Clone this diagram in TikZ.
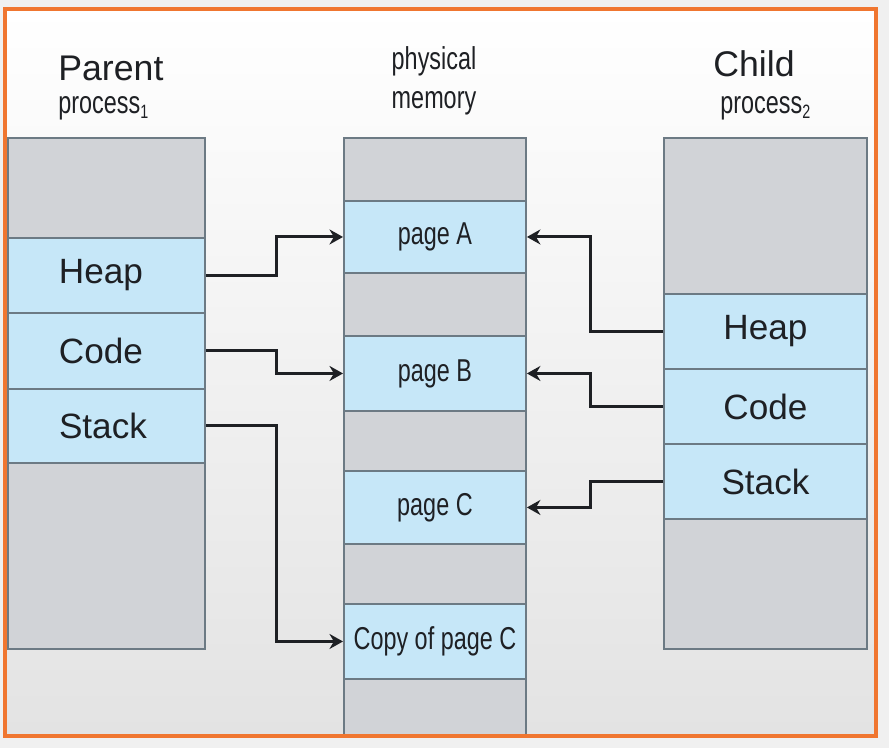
\documentclass[tikz,border=0pt]{standalone}
\usepackage{fontspec}
\setmainfont{Liberation Sans}
\newfontfamily\narrowfont[FakeStretch=0.74]{Liberation Sans}
\usetikzlibrary{arrows.meta}
\definecolor{segblue}{RGB}{198,231,248}
\definecolor{seggray}{RGB}{209,211,215}
\definecolor{segline}{RGB}{108,122,132}
\definecolor{frameorange}{RGB}{240,118,48}
\definecolor{inkdark}{RGB}{30,32,36}

\begin{document}
\begin{tikzpicture}[x=0.02cm,y=-0.02cm,
	blk/.style={draw=segline,line width=1.1pt,inner sep=0pt,anchor=north west,text=inkdark,font=\fontsize{20}{24}\selectfont},
	free/.style={blk,fill=seggray},
	used/.style={blk,fill=segblue},
	page/.style={used,font=\narrowfont\fontsize{18}{22}\selectfont},
	title/.style={inner sep=0pt,text=inkdark,font=\fontsize{20.3}{24}\selectfont},
	subtitle/.style={inner sep=0pt,text=inkdark,font=\narrowfont\fontsize{18}{22}\selectfont},
	conn/.style={line width=1.7pt,draw=inkdark,-{Stealth[length=0.27cm,width=0.3cm]}}]
	\useasboundingbox (0,0) rectangle (889,748);
	\fill[black!6] (0,0) rectangle (889,748);
	\shade[top color=white,bottom color=black!11] (5,9) rectangle (876,736);

	% headings
	\node[title,anchor=base west] (parent) at (58,80) {Parent};
	\node[subtitle,anchor=base west] (parentsub) at (58,113) {process\raisebox{-0.35ex}{\fontsize{11}{12}\selectfont 1}};
	\node[subtitle,anchor=base] (physical) at (434,69) {physical};
	\node[subtitle,anchor=base] (memory) at (434,108) {memory};
	\node[title,anchor=base west] (child) at (713,76) {Child};
	\node[subtitle,anchor=base west] (childsub) at (720,113) {process\raisebox{-0.35ex}{\fontsize{11}{12}\selectfont 2}};

	% parent process
	\node[free,minimum width=3.94cm,minimum height=2cm] (lg1) at (7,137) {};
	\node[used,minimum width=3.94cm,minimum height=1.5cm] (pheap) at (7,237) {Heap\kern0.22cm};
	\node[used,minimum width=3.94cm,minimum height=1.52cm] (pcode) at (7,312) {Code\kern0.22cm};
	\node[used,minimum width=3.94cm,minimum height=1.48cm] (pstack) at (7,388) {Stack\kern0.14cm};
	\node[free,minimum width=3.94cm,minimum height=3.72cm] (lg2) at (7,462) {};

	% physical memory
	\node[free,minimum width=3.64cm,minimum height=1.26cm] (mg1) at (343,137) {};
	\node[page,minimum width=3.64cm,minimum height=1.44cm] (pageA) at (343,200) {page A};
	\node[free,minimum width=3.64cm,minimum height=1.26cm] (mg2) at (343,272) {};
	\node[page,minimum width=3.64cm,minimum height=1.5cm] (pageB) at (343,335) {page B};
	\node[free,minimum width=3.64cm,minimum height=1.2cm] (mg3) at (343,410) {};
	\node[page,minimum width=3.64cm,minimum height=1.46cm] (pageC) at (343,470) {page C};
	\node[free,minimum width=3.64cm,minimum height=1.2cm] (mg4) at (343,543) {};
	\node[page,minimum width=3.64cm,minimum height=1.5cm] (copyC) at (343,603) {Copy of page C};
	\node[free,minimum width=3.64cm,minimum height=1.14cm] (mg5) at (343,678) {};

	% child process
	\node[free,minimum width=4.06cm,minimum height=3.12cm] (rg1) at (663,137) {};
	\node[used,minimum width=4.06cm,minimum height=1.5cm] (cheap) at (663,293) {Heap};
	\node[used,minimum width=4.06cm,minimum height=1.5cm] (ccode) at (663,368) {Code};
	\node[used,minimum width=4.06cm,minimum height=1.5cm] (cstack) at (663,443) {Stack};
	\node[free,minimum width=4.06cm,minimum height=2.6cm] (rg2) at (663,518) {};

	% mappings
	\draw[conn] (pheap.east) -- ++(71,0) |- (pageA.west);
	\draw[conn] (pcode.east) -- ++(71,0) |- (pageB.west);
	\draw[conn] (pstack.east) -- ++(71,0) |- (copyC.west);
	\draw[conn] (cheap.west) -- ++(-73,0) |- (pageA.east);
	\draw[conn] (ccode.west) -- ++(-73,0) |- (pageB.east);
	\draw[conn] (cstack.west) -- ++(-73,0) |- (pageC.east);

	\draw[frameorange,line width=2.2pt] (5,9) rectangle (876,736);
\end{tikzpicture}
\end{document}
